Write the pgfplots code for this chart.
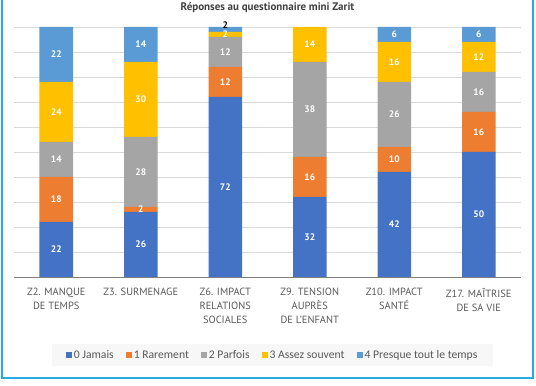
\documentclass[border=0pt]{standalone}
\usepackage{pgfplots}
\pgfplotsset{compat=1.18}
\usepackage{fontspec}
\setmainfont{PT Sans}
\newfontfamily\legfont{Carlito}
\definecolor{c0}{HTML}{4472C4}
\definecolor{c1}{HTML}{ED7D31}
\definecolor{c2}{HTML}{A5A5A5}
\definecolor{c3}{HTML}{FFC000}
\definecolor{c4}{HTML}{5B9BD5}
\definecolor{gridc}{HTML}{D9D9D9}
\definecolor{axisc}{HTML}{7F7F7F}
\definecolor{tickc}{HTML}{595959}
\definecolor{titlec}{HTML}{404040}
\definecolor{framec}{HTML}{29A9E1}
\definecolor{legbg}{HTML}{F7F7F7}
\pgfplotsset{geom/.style={at={(14bp,109bp)}, anchor=south west,
  scale only axis, width=507bp, height=250bp,
  xmin=-0.5, xmax=5.5, ymin=0, ymax=100}}
\begin{document}
\begin{tikzpicture}
\path[use as bounding box] (0,0) rectangle (536bp,386bp);
\begin{scope}
\clip (0,0) rectangle (536bp,386bp);
\draw[framec, line width=2bp] (2bp,8bp) rectangle (533bp,400bp);
\end{scope}
\begin{axis}[geom,
  ybar stacked, bar width=33.5bp,
  xtick={0,...,5},
  xticklabels={{Z2. MANQUE\\DE TEMPS},{Z3. SURMENAGE},{Z6. IMPACT\\RELATIONS\\SOCIALES},{Z9. TENSION\\AUPRÈS\\DE L'ENFANT},{Z10. IMPACT\\SANTÉ},{Z17. MAÎTRISE\\DE SA VIE}},
  xticklabel style={align=center, font=\fontsize{10.5}{14}\selectfont, text=tickc, yshift=-8bp},
  ytick={0,10,...,100}, yticklabel=\empty,
  ymajorgrids, grid style={color=gridc, line width=0.8bp},
  axis x line*=bottom, axis y line*=left,
  x axis line style={draw=axisc, line width=1bp, -},
  y axis line style={draw=none},
  major tick length=0pt,
  title={\bfseries Réponses au questionnaire mini Zarit},
  title style={font=\fontsize{11}{13}\selectfont, text=titlec, anchor=center, at={(0.5,1)}, yshift=13bp},
  legend style={at={(0.51,-0.312)}, anchor=center, legend columns=5, draw=none, fill=legbg,
    font=\legfont\fontsize{11.7}{14}\selectfont, text=tickc,
    /tikz/every even column/.append style={column sep=10bp},
    inner xsep=14bp, inner ysep=4bp},
  legend image code/.code={\fill[#1] (0bp,-3bp) rectangle (6bp,3bp);},
  legend cell align=left,
]
\addplot[fill=c0, draw=none] coordinates {(0,22) (1,26) (2,72) (3,32) (4,42) (5,50)};
\addplot[fill=c1, draw=none] coordinates {(0,18) (1,2) (2,12) (3,16) (4,10) (5,16)};
\addplot[fill=c2, draw=none] coordinates {(0,14) (1,28) (2,12) (3,38) (4,26) (5,16)};
\addplot[fill=c3, draw=none] coordinates {(0,24) (1,30) (2,2) (3,14) (4,16) (5,12)};
\addplot[fill=c4, draw=none] coordinates {(0,22) (1,14) (2,2) (3,0) (4,6) (5,6)};
\legend{0 Jamais, 1 Rarement, 2 Parfois, 3 Assez souvent, 4 Presque tout le temps}
\end{axis}
% segment labels, placed at the middle of each segment
\begin{axis}[geom, hide axis, clip=false,
  nodes near coords, point meta=explicit symbolic,
  every node near coord/.append style={anchor=center, font=\bfseries\fontsize{9.5}{10}\selectfont, text=white, inner sep=0pt}]
\addplot[draw=none, mark=none] coordinates {(0,11) [22] (1,13) [26] (2,36) [72] (3,16) [32] (4,21) [42] (5,25) [50]};
\addplot[draw=none, mark=none] coordinates {(0,31) [18] (1,27) [2] (2,78) [12] (3,40) [16] (4,47) [10] (5,58) [16]};
\addplot[draw=none, mark=none] coordinates {(0,47) [14] (1,42) [28] (2,90) [12] (3,67) [38] (4,65) [26] (5,74) [16]};
\addplot[draw=none, mark=none] coordinates {(0,66) [24] (1,71) [30] (2,97.2) [2] (3,93) [14] (4,86) [16] (5,88) [12]};
\addplot[draw=none, mark=none] coordinates {(0,89) [22] (1,93) [14] (4,97) [6] (5,97) [6]};
\addplot[draw=none, mark=none, every node near coord/.append style={text=black}] coordinates {(2,100.6) [2]};
\end{axis}
\end{tikzpicture}
\end{document}
